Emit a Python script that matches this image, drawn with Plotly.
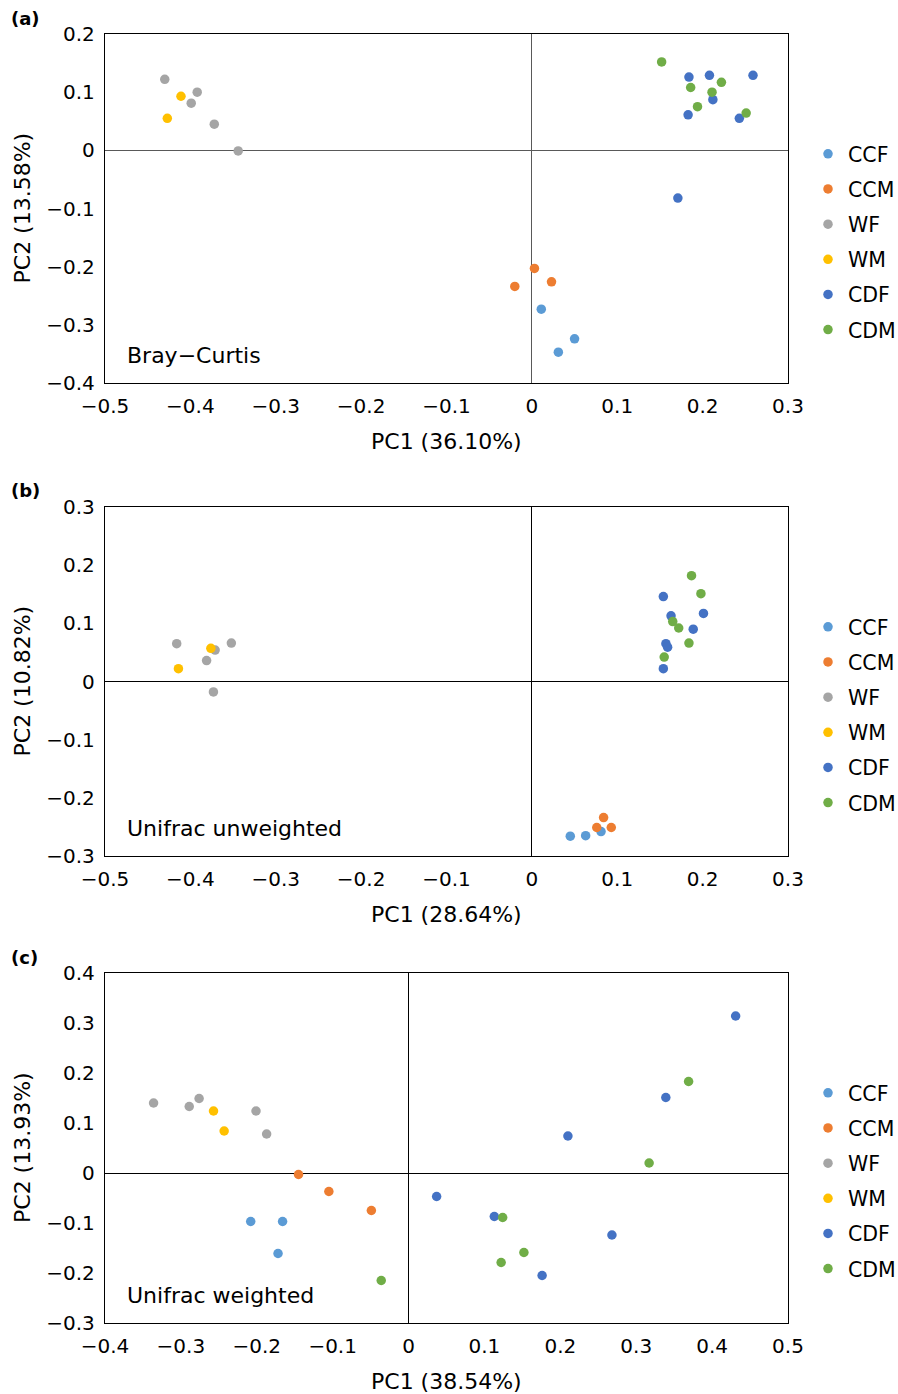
import plotly.graph_objects as go

groups = ["CCF", "CCM", "WF", "WM", "CDF", "CDM"]
colors = ["#5B9BD5", "#ED7D31", "#A5A5A5", "#FFC000", "#4472C4", "#70AD47"]

# Panel (a) Bray-Curtis
a_x = {
    "CCF": [0.011, 0.050, 0.031],
    "CCM": [0.003, 0.023, -0.020],
    "WF": [-0.430, -0.392, -0.399, -0.372, -0.344],
    "WM": [-0.411, -0.427],
    "CDF": [0.184, 0.208, 0.259, 0.212, 0.183, 0.243, 0.171],
    "CDM": [0.152, 0.186, 0.222, 0.211, 0.194, 0.251],
}
a_y = {
    "CCF": [-0.273, -0.324, -0.347],
    "CCM": [-0.203, -0.226, -0.234],
    "WF": [0.122, 0.100, 0.081, 0.045, -0.001],
    "WM": [0.093, 0.055],
    "CDF": [0.126, 0.129, 0.129, 0.087, 0.061, 0.055, -0.082],
    "CDM": [0.152, 0.108, 0.117, 0.100, 0.075, 0.064],
}
# Panel (b) Unifrac unweighted
b_x = {
    "CCF": [0.045, 0.063, 0.081],
    "CCM": [0.084, 0.076, 0.093],
    "WF": [-0.416, -0.371, -0.352, -0.381, -0.373],
    "WM": [-0.376, -0.414],
    "CDF": [0.154, 0.163, 0.201, 0.189, 0.157, 0.159, 0.154],
    "CDM": [0.187, 0.198, 0.165, 0.172, 0.184, 0.155],
}
b_y = {
    "CCF": [-0.266, -0.265, -0.258],
    "CCM": [-0.234, -0.251, -0.251],
    "WF": [0.065, 0.054, 0.066, 0.036, -0.018],
    "WM": [0.057, 0.022],
    "CDF": [0.146, 0.113, 0.117, 0.090, 0.065, 0.059, 0.022],
    "CDM": [0.182, 0.151, 0.103, 0.092, 0.066, 0.042],
}
# Panel (c) Unifrac weighted
c_x = {
    "CCF": [-0.208, -0.166, -0.172],
    "CCM": [-0.145, -0.105, -0.049],
    "WF": [-0.336, -0.289, -0.276, -0.201, -0.187],
    "WM": [-0.257, -0.243],
    "CDF": [0.431, 0.339, 0.210, 0.037, 0.113, 0.268, 0.176],
    "CDM": [-0.036, 0.124, 0.152, 0.122, 0.317, 0.369],
}
c_y = {
    "CCF": [-0.097, -0.097, -0.161],
    "CCM": [-0.003, -0.037, -0.075],
    "WF": [0.140, 0.133, 0.149, 0.124, 0.078],
    "WM": [0.124, 0.084],
    "CDF": [0.314, 0.151, 0.074, -0.047, -0.087, -0.124, -0.205],
    "CDM": [-0.215, -0.089, -0.159, -0.179, 0.020, 0.183],
}

panels = [
    dict(tag="(a)", name="Bray\u2212Curtis", xs=a_x, ys=a_y, xr=[-0.5, 0.3], yr=[-0.4, 0.2],
         xt="PC1 (36.10%)", yt="PC2 (13.58%)", top=34, bot=383, zc="#595959"),
    dict(tag="(b)", name="Unifrac unweighted", xs=b_x, ys=b_y, xr=[-0.5, 0.3], yr=[-0.3, 0.3],
         xt="PC1 (28.64%)", yt="PC2 (10.82%)", top=507, bot=856, zc="#000000"),
    dict(tag="(c)", name="Unifrac weighted", xs=c_x, ys=c_y, xr=[-0.4, 0.5], yr=[-0.3, 0.4],
         xt="PC1 (38.54%)", yt="PC2 (13.93%)", top=973, bot=1323, zc="#000000"),
]

# the page body margin is removed in the page script below, so figure px == page px
OFF = 0
W, H = 898, 1394
L, R = 105, 788
FONT = "DejaVu Sans"


def fx(px):
    return (px - OFF) / W


def fy(py):
    return (H - (py - OFF)) / H


fig = go.Figure()
layout = dict(width=W, height=H, margin=dict(l=0, r=0, t=0, b=0, autoexpand=False),
              paper_bgcolor="white", plot_bgcolor="white",
              font=dict(family=FONT, size=20, color="black"),
              annotations=[], shapes=[])

for i, p in enumerate(panels):
    n = "" if i == 0 else str(i + 1)
    xa, ya = "x" + n, "y" + n
    lg = "legend" + n
    for g, col in zip(groups, colors):
        fig.add_trace(go.Scatter(
            x=p["xs"][g], y=p["ys"][g], mode="markers", name=g,
            marker=dict(color=col, size=9.5), xaxis=xa, yaxis=ya,
            legend=lg, legendgroup=g + n, showlegend=True))
    common = dict(showgrid=False, showline=True, mirror=True, linecolor="black", linewidth=1.3,
                  zeroline=True, zerolinecolor=p["zc"], zerolinewidth=1,
                  ticks="outside", tickcolor="rgba(0,0,0,0)", tickfont=dict(size=20),
                  automargin=False)
    layout["xaxis" + n] = dict(common, domain=[fx(L), fx(R)], range=p["xr"], dtick=0.1,
                               anchor=ya, ticklen=5)
    layout["yaxis" + n] = dict(common, domain=[fy(p["bot"]), fy(p["top"])], range=p["yr"], dtick=0.1,
                               anchor=xa, ticklen=5)
    layout[lg] = dict(x=fx(808), xanchor="left", y=fy(p["top"] + 100), yanchor="top",
                      font=dict(size=20.5), tracegroupgap=5.5, bgcolor="rgba(0,0,0,0)",
                      itemclick=False)
    # panel tag
    layout["annotations"].append(dict(text="<b>" + p["tag"] + "</b>", x=fx(9), y=fy(p["top"] - 16),
                                      xref="paper", yref="paper", xanchor="left", yanchor="middle",
                                      showarrow=False, font=dict(size=18)))
    # method label
    layout["annotations"].append(dict(text=p["name"], x=0.03, y=0.08, xref=xa + " domain", yref=ya + " domain",
                                      xanchor="left", yanchor="middle", showarrow=False,
                                      font=dict(size=22)))
    # axis titles
    layout["annotations"].append(dict(text=p["xt"], x=fx((L + R) / 2), y=fy(p["bot"] + 58),
                                      xref="paper", yref="paper", xanchor="center", yanchor="middle",
                                      showarrow=False, font=dict(size=22)))
    layout["annotations"].append(dict(text=p["yt"], x=fx(22), y=fy((p["top"] + p["bot"]) / 2),
                                      xref="paper", yref="paper", xanchor="center", yanchor="middle",
                                      textangle=-90, showarrow=False, font=dict(size=22)))

fig.update_layout(**layout)
fig.write_html("out.html", config={"displayModeBar": False},
               post_script="document.body.style.margin='0';document.body.style.overflow='hidden';")
